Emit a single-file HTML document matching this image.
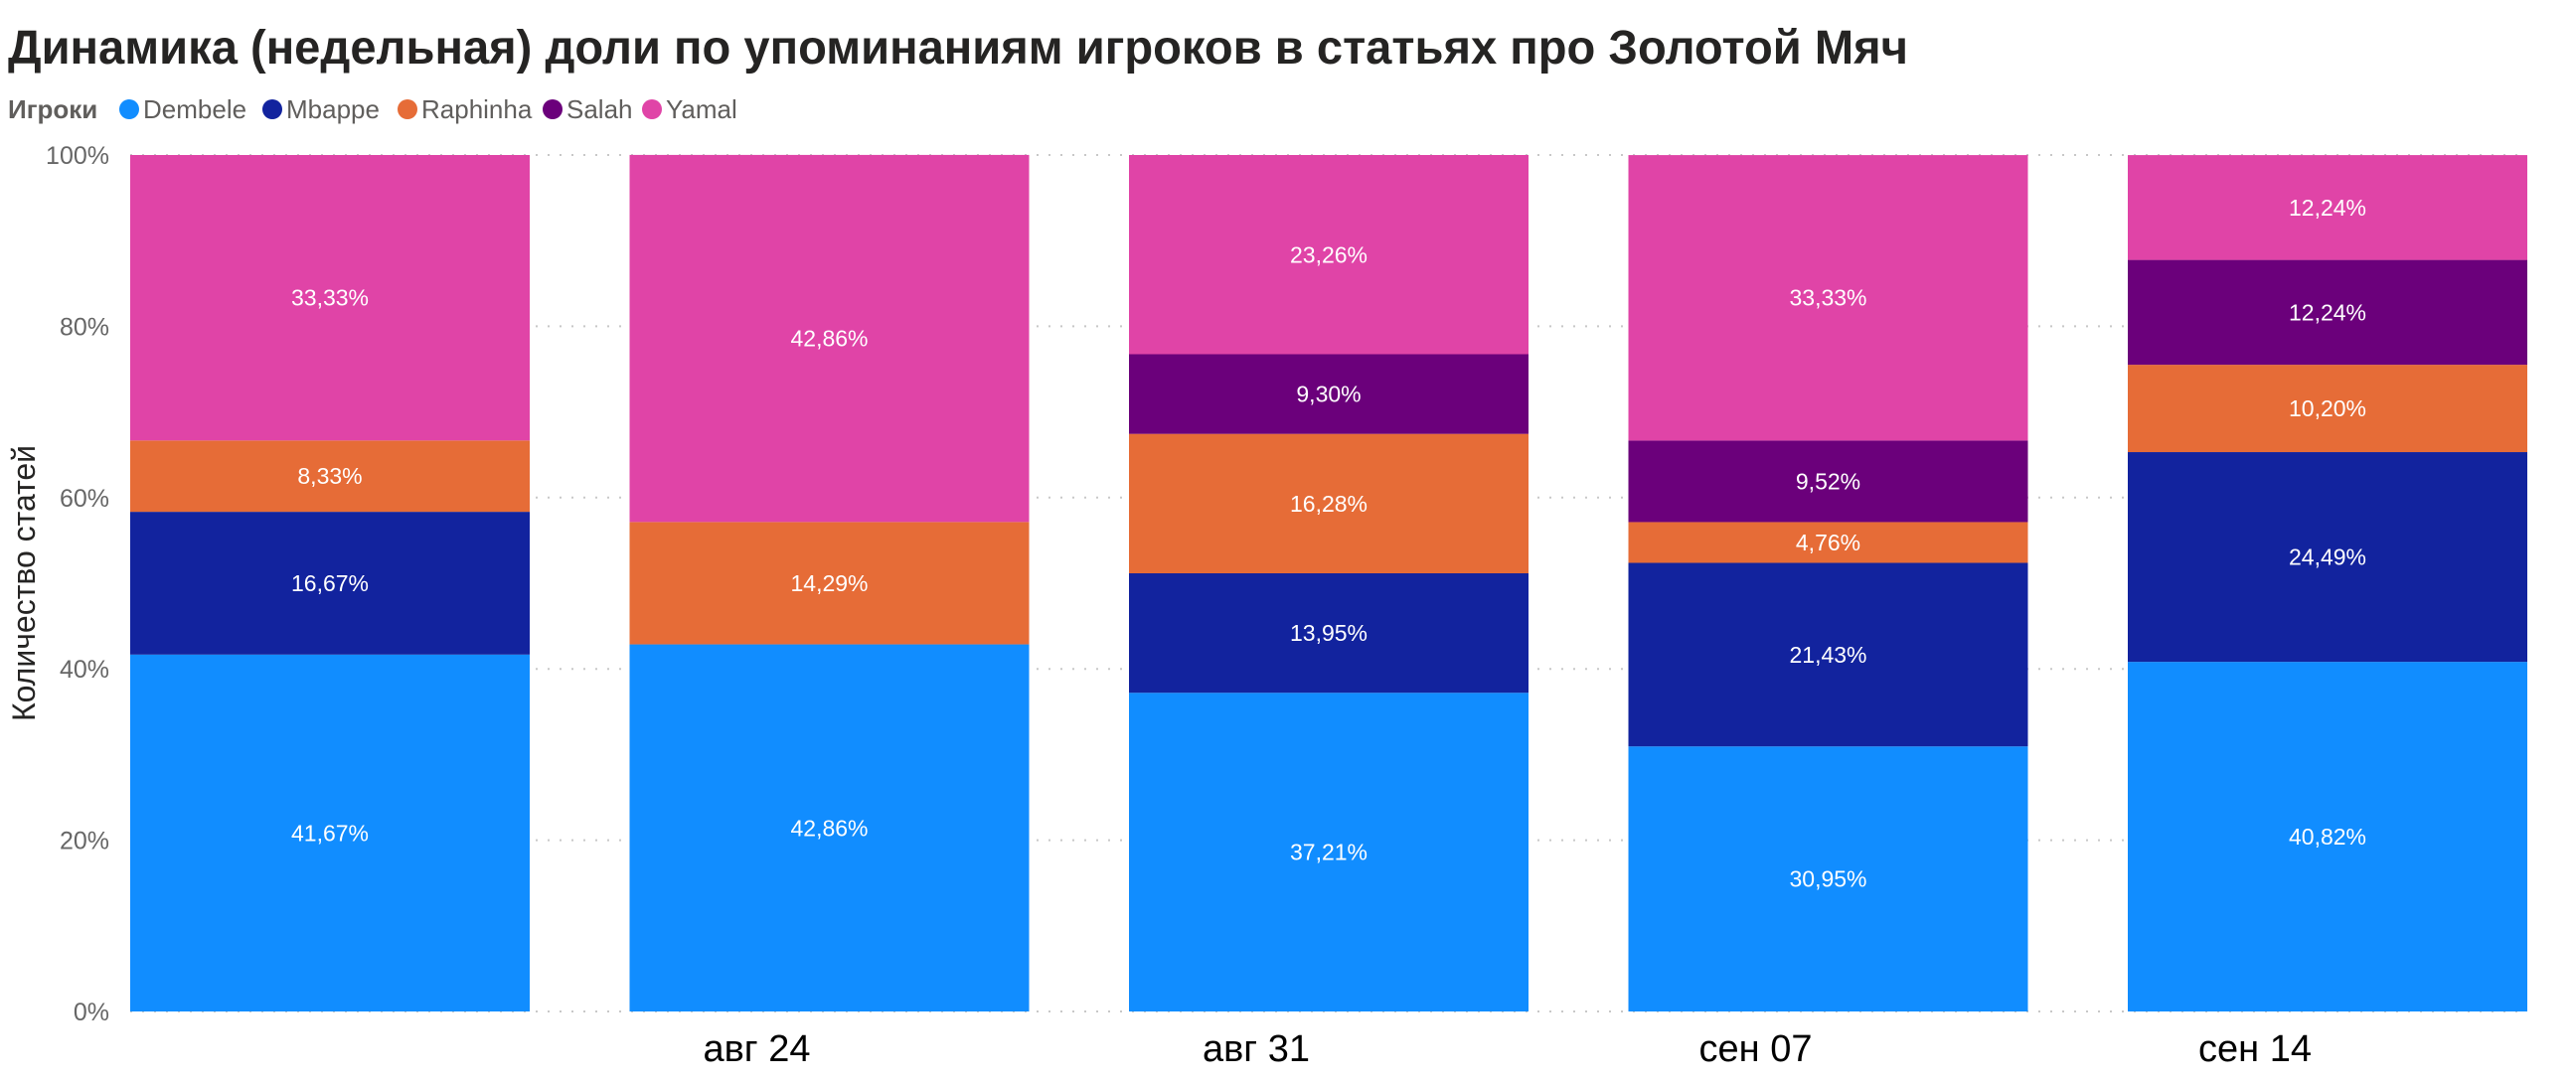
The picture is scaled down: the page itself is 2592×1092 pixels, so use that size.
<!DOCTYPE html>
<html><head><meta charset="utf-8"><style>
html,body{margin:0;padding:0;background:#fff;}
svg{display:block;font-family:"Liberation Sans","DejaVu Sans",sans-serif;}
</style></head><body>
<svg id="chart" width="2592" height="1092" viewBox="0 0 2592 1092" xmlns="http://www.w3.org/2000/svg">
<text x="8" y="64" font-size="48" font-weight="bold" fill="#252423" textLength="1912" lengthAdjust="spacingAndGlyphs">Динамика (недельная) доли по упоминаниям игроков в статьях про Золотой Мяч</text>
<g id="legend"></g>
<g id="grid"></g>
<g id="yticks"></g>
<text transform="translate(35,587) rotate(-90)" text-anchor="middle" font-size="32" fill="#252423">Количество статей</text>
<g id="bars"></g>
<g id="xticks"></g>
</svg>
<script>
const categories = ["авг 17", "авг 24", "авг 31", "сен 07", "сен 14"];
const xLabels = ["", "авг 24", "авг 31", "сен 07", "сен 14"];
const seriesNames = ["Dembele", "Mbappe", "Raphinha", "Salah", "Yamal"];
const dembele = [41.67, 42.86, 37.21, 30.95, 40.82];
const mbappe = [16.67, 0, 13.95, 21.43, 24.49];
const raphinha = [8.33, 14.29, 16.28, 4.76, 10.20];
const salah = [0, 0, 9.30, 9.52, 12.24];
const yamal = [33.33, 42.86, 23.26, 33.33, 12.24];
const yTicks = [0, 20, 40, 60, 80, 100];

const colors = ["#118DFF", "#12239E", "#E66C37", "#6B007B", "#E044A7"];
const seriesData = [dembele, mbappe, raphinha, salah, yamal];
const NS = "http://www.w3.org/2000/svg";
const top_ = 156, bottom = 1018, left = 131, period = 502.5, barW = 402;
const y = v => bottom - (v / 100) * (bottom - top_);
const xBar = i => left + i * period;
function mk(tag, attrs, parent) {
  const e = document.createElementNS(NS, tag);
  for (const k in attrs) e.setAttribute(k, attrs[k]);
  parent.appendChild(e);
  return e;
}
const grid = document.getElementById("grid");
const yt = document.getElementById("yticks");
yTicks.forEach(t => {
  const l = mk("line", {x1: left, x2: xBar(categories.length - 1) + barW, y1: y(t), y2: y(t), stroke: "#c8c8c8", "stroke-width": 2, "stroke-dasharray": "2,10"}, grid);
  
  
  const tx = mk("text", {x: 110, y: y(t) + 9, "text-anchor": "end", "font-size": 25, fill: "#666666"}, yt);
  tx.textContent = t + "%";
  
  
});
const bars = document.getElementById("bars");
categories.forEach((c, i) => {
  let cum = 0;
  seriesData.forEach((arr, s) => {
    const v = arr[i];
    if (!v) return;
    const y0 = y(cum), y1 = y(cum + v);
    const r = mk("rect", {x: xBar(i), y: y1, width: barW, height: y0 - y1, fill: colors[s]}, bars);
    
    
    const tx = mk("text", {x: xBar(i) + barW / 2, y: (y0 + y1) / 2 + 8, "text-anchor": "middle", "font-size": 23, fill: "#ffffff"}, bars);
    tx.textContent = v.toFixed(2).replace(".", ",") + "%";
    
    
    cum += v;
  });
});
const xt = document.getElementById("xticks");
xLabels.forEach((lab, i) => {
  if (!lab) return;
  const tx = mk("text", {x: xBar(i) + barW / 2 - 73, y: 1068, "text-anchor": "middle", "font-size": 38, fill: "#000000"}, xt);
  tx.textContent = lab;
  
  
});
const lg = document.getElementById("legend");
const lt = mk("text", {x: 8, y: 119, "font-size": 26, "font-weight": "bold", fill: "#605E5C"}, lg);
lt.textContent = "Игроки";


const legX = [130, 274, 410, 556, 656];
seriesNames.forEach((n, s) => {
  const g = mk("g", {}, lg);
  
  
  mk("circle", {cx: legX[s], cy: 110, r: 10, fill: colors[s]}, g);
  const t = mk("text", {x: legX[s] + 14, y: 119, "font-size": 26, fill: "#605E5C"}, g);
  t.textContent = n;
});
</script>
</body></html>
